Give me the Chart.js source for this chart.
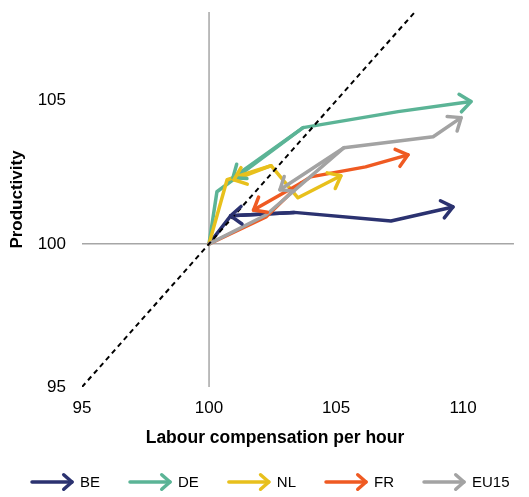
<!DOCTYPE html>
<html>
<head>
<meta charset="utf-8">
<script src="https://cdn.jsdelivr.net/npm/chart.js@4"></script>
<style>
  html, body { margin: 0; padding: 0; background: #fff; }
  #wrap { width: 529px; height: 497px; }
</style>
</head>
<body>
<div id="wrap"><canvas id="c" width="529" height="497"></canvas></div>
<script>
// ---- data (index values) ----
const seriesNames = ['BE', 'DE', 'NL', 'FR', 'EU15'];

const beX = [100, 100.85, 103.35, 107.16, 109.6];
const beY = [100, 100.98, 101.10, 100.80, 101.29];
const beBackX = [103.35, 100.85];
const beBackY = [101.10, 100.98];

const deX = [100, 100.31, 103.70, 107.44, 110.31];
const deY = [100, 101.82, 104.06, 104.62, 104.97];
const deBackX = [103.70, 100.94];
const deBackY = [104.06, 102.31];

const nlX = [100, 100.71, 102.44, 103.50, 105.19];
const nlY = [100, 102.24, 102.73, 101.61, 102.38];
const nlBackX = [102.44, 100.98];
const nlBackY = [102.73, 102.24];

const frX = [100, 102.24, 103.62, 104.00, 106.16, 107.83];
const frY = [100, 100.94, 102.13, 102.34, 102.69, 103.11];
const frBackX = [103.62, 101.75];
const frBackY = [102.13, 101.18];

const euX = [100, 102.24, 105.31, 108.82, 109.92];
const euY = [100, 101.01, 103.36, 103.74, 104.41];
const euBackX = [105.31, 102.79];
const euBackY = [103.36, 101.89];

const diagonalX = [95, 108.1];
const diagonalY = [95, 108.1];
const xAxisLineX = [95, 112];
const xAxisLineY = [100, 100];
const yAxisLineX = [100, 100];
const yAxisLineY = [95, 108.1];

const xTicksShown = [95, 100, 105, 110];
const yTicksShown = [95, 100, 105];
const xTitle = 'Labour compensation per hour';
const yTitle = 'Productivity';

// ---- styles ----
const colours = ['#2B3270', '#5BB496', '#E8C01C', '#EF5A22', '#A3A3A3'];
const FONT = "'Liberation Sans', Arial, sans-serif";

function pts(xs, ys) { return xs.map((x, i) => ({ x: x, y: ys[i] })); }

const mains = [[beX, beY], [deX, deY], [nlX, nlY], [frX, frY], [euX, euY]];
const backs = [[beBackX, beBackY], [deBackX, deBackY], [nlBackX, nlBackY], [frBackX, frBackY], [euBackX, euBackY]];
const orders = [50, 40, 30, 20, 10];

const datasets = [];
datasets.push({ label: '_xaxis', data: pts(xAxisLineX, xAxisLineY), borderColor: '#A6A6A6', borderWidth: 1.5, pointRadius: 0, order: 100 });
datasets.push({ label: '_yaxis', data: pts(yAxisLineX, yAxisLineY), borderColor: '#A6A6A6', borderWidth: 1.5, pointRadius: 0, order: 100 });
seriesNames.forEach((name, i) => {
  datasets.push({ label: name, data: pts(mains[i][0], mains[i][1]), borderColor: colours[i], borderWidth: 3.5, pointRadius: 0, order: orders[i], arrow: true, legendItem: true, borderCapStyle: 'round', borderJoinStyle: 'round' });
  datasets.push({ label: '_' + name + 'back', data: pts(backs[i][0], backs[i][1]), borderColor: colours[i], borderWidth: 3.5, pointRadius: 0, order: orders[i], arrow: true, borderCapStyle: 'round' });
});
datasets.push({ label: '_diag', data: pts(diagonalX, diagonalY), borderColor: '#000', borderWidth: 2, borderDash: [5, 4], pointRadius: 0, order: 0 });

function chevron(ctx, tx, ty, ang, L, s) {
  ctx.beginPath();
  ctx.moveTo(tx - L * Math.cos(ang - s), ty - L * Math.sin(ang - s));
  ctx.lineTo(tx, ty);
  ctx.lineTo(tx - L * Math.cos(ang + s), ty - L * Math.sin(ang + s));
  ctx.stroke();
}

const arrowPlugin = {
  id: 'arrowHeads',
  afterDatasetsDraw(chart) {
    const ctx = chart.ctx;
    chart.data.datasets.forEach((ds, i) => {
      if (!ds.arrow) return;
      const p = chart.getDatasetMeta(i).data;
      const a = p[p.length - 2], b = p[p.length - 1];
      const ang = Math.atan2(b.y - a.y, b.x - a.x);
      ctx.save();
      ctx.strokeStyle = ds.borderColor;
      ctx.lineWidth = ds.borderWidth;
      ctx.lineCap = 'round';
      ctx.lineJoin = 'round';
      chevron(ctx, b.x, b.y, ang, 14, 0.68);
      ctx.restore();
    });
  }
};

// x-axis title and legend (arrow symbols) drawn under the plot
const bottomTextPlugin = {
  id: 'bottomText',
  afterDraw(chart) {
    const ctx = chart.ctx;
    const xs = chart.scales.x;
    ctx.save();
    ctx.font = 'bold 17.5px ' + FONT;
    ctx.fillStyle = '#000';
    ctx.textAlign = 'center';
    ctx.textBaseline = 'middle';
    ctx.fillText(xTitle, 275, xs.top + 51);

    // legend
    const items = chart.data.datasets.filter(d => d.legendItem);
    ctx.font = '15px ' + FONT;
    ctx.textAlign = 'left';
    const ICON = 42, GAP_TXT = 7, GAP_NEXT = 29, ly = 482;
    let x = 31;
    items.forEach(d => {
      ctx.strokeStyle = d.borderColor;
      ctx.lineWidth = 3.5;
      ctx.lineCap = 'round';
      ctx.lineJoin = 'round';
      ctx.beginPath(); ctx.moveTo(x + 1, ly); ctx.lineTo(x + ICON - 1, ly); ctx.stroke();
      chevron(ctx, x + ICON - 1, ly, 0, 11, 0.72);
      ctx.fillStyle = '#000';
      ctx.fillText(d.label, x + ICON + GAP_TXT, ly + 1);
      x += ICON + GAP_TXT + ctx.measureText(d.label).width + GAP_NEXT;
    });
    ctx.restore();
  }
};

Chart.defaults.font.family = FONT;
Chart.defaults.color = '#000';

new Chart(document.getElementById('c'), {
  type: 'line',
  data: { datasets: datasets },
  plugins: [arrowPlugin, bottomTextPlugin],
  options: {
    responsive: false,
    animation: false,
    devicePixelRatio: 1,
    layout: { padding: { top: 12, right: 13, left: 0, bottom: 0 } },
    elements: { line: { tension: 0, fill: false } },
    plugins: {
      tooltip: { enabled: false },
      legend: { display: false }
    },
    scales: {
      x: {
        type: 'linear', position: 'bottom', min: 95, max: 112.08,
        grid: { display: false, drawTicks: false },
        border: { display: false },
        ticks: {
          stepSize: 5, includeBounds: false, padding: 11, font: { size: 17 }, color: '#000',
          autoSkip: false, maxRotation: 0,
          callback: v => (xTicksShown.includes(v) ? String(v) : '')
        },
        title: { display: false },
        afterFit: s => { s.height = 110; s.paddingLeft = 0; s.paddingRight = 0; }
      },
      y: {
        type: 'linear', min: 95, max: 108.1,
        grid: { display: false, drawTicks: false },
        border: { display: false },
        ticks: {
          stepSize: 5, includeBounds: false, padding: 16, font: { size: 17 }, color: '#000',
          callback: v => (yTicksShown.includes(v) ? String(v) : '')
        },
        title: { display: true, text: yTitle, font: { size: 17, weight: 'bold' }, color: '#000', padding: { top: 7, bottom: 0 } },
        afterFit: s => { s.width = 82; s.paddingTop = 0; s.paddingBottom = 0; }
      }
    }
  }
});
</script>
</body>
</html>
